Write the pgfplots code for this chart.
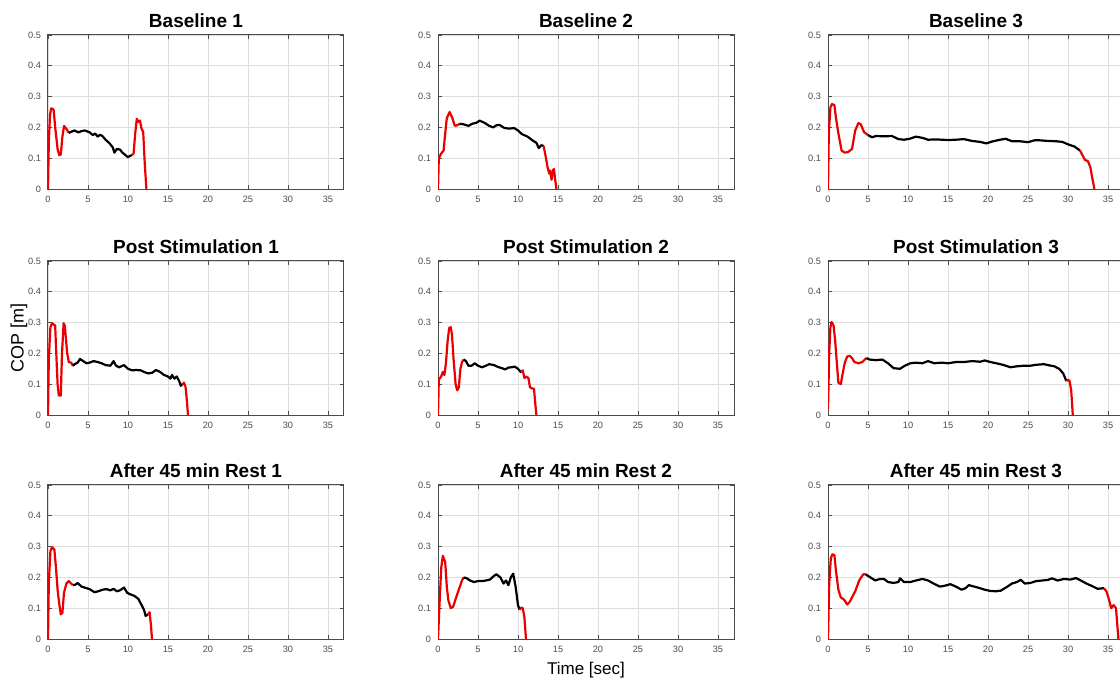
\documentclass[border=0pt]{standalone}
\usepackage{fontspec}
\setmainfont{Liberation Sans}
\usepackage{pgfplots}
\pgfplotsset{compat=1.18}
\definecolor{axgray}{RGB}{75,75,75}
\definecolor{gridgray}{RGB}{222,222,222}
\definecolor{lred}{RGB}{235,0,0}
\pgfplotsset{panel/.style={
  scale only axis, width=148pt, height=77pt, anchor=south west,
  clip mode=individual,
  xmin=0,xmax=37,ymin=0,ymax=0.5,
  xtick={0,5,...,35}, ytick={0,0.1,0.2,0.3,0.4,0.5},
  grid=major, major grid style={gridgray, line width=0.4pt},
  axis line style={axgray, line width=0.5pt},
  tick style={axgray, line width=0.4pt},
  tick align=inside, major tick length=2pt,
  ticklabel style={font=\fontsize{4.6}{5}\selectfont, text=axgray},
  /pgf/number format/assume math mode=true,
  every axis title shift=0pt,
  title style={font=\bfseries\fontsize{9.5}{11}\selectfont, at={(0.5,1)}, anchor=base, yshift=3.5pt, inner sep=0pt},
  every axis plot/.append style={line width=1.1pt, line join=round, mark=none},
}}
\begin{document}
\begin{tikzpicture}
% ---------- Row 1 ----------
\begin{axis}[panel, at={(24pt,246.5pt)}, title={Baseline 1}]
\addplot[lred] coordinates {(0,0) (0.1,0.15) (0.25,0.24) (0.4,0.262) (0.7,0.258) (0.9,0.2) (1.2,0.13) (1.4,0.11) (1.6,0.112) (1.8,0.17) (2.0,0.205) (2.3,0.195) (2.6,0.182)};
\addplot[black] coordinates {(2.6,0.182) (3.0,0.187) (3.3,0.19) (3.8,0.184) (4.2,0.188) (4.6,0.19) (5.2,0.184) (5.6,0.175) (5.9,0.18) (6.2,0.17) (6.5,0.176) (6.8,0.172) (7.2,0.16) (7.7,0.148) (8.1,0.135) (8.3,0.118) (8.6,0.13) (9.0,0.128) (9.3,0.118) (9.6,0.112) (10.0,0.103) (10.2,0.107) (10.5,0.11)};
\addplot[lred] coordinates {(10.5,0.11) (10.7,0.115) (10.9,0.18) (11.1,0.228) (11.3,0.218) (11.5,0.222) (11.7,0.195) (11.9,0.185) (12.1,0.08) (12.3,0)};
\end{axis}
\begin{axis}[panel, at={(219pt,246.5pt)}, title={Baseline 2}]
\addplot[lred] coordinates {(0,0) (0.1,0.1) (0.4,0.115) (0.7,0.125) (0.9,0.18) (1.1,0.23) (1.45,0.25) (1.8,0.23) (2.1,0.205) (2.5,0.208) (2.7,0.212)};
\addplot[black] coordinates {(2.7,0.212) (3.2,0.21) (3.8,0.205) (4.3,0.212) (4.8,0.215) (5.2,0.222) (5.8,0.215) (6.4,0.205) (6.9,0.2) (7.3,0.207) (7.7,0.208) (8.3,0.198) (8.9,0.196) (9.5,0.198) (10.0,0.19) (10.5,0.178) (11.2,0.17) (11.8,0.158) (12.3,0.15) (12.6,0.133) (12.9,0.142) (13.2,0.14)};
\addplot[lred] coordinates {(13.2,0.14) (13.5,0.1) (13.7,0.07) (13.9,0.05) (14.0,0.06) (14.2,0.03) (14.35,0.06) (14.5,0.065) (14.6,0.04) (14.8,0)};
\end{axis}
\begin{axis}[panel, at={(414pt,246.5pt)}, title={Baseline 3}]
\addplot[lred] coordinates {(0,0) (0.1,0.18) (0.3,0.265) (0.5,0.276) (0.8,0.272) (1.0,0.23) (1.3,0.18) (1.7,0.125) (2.1,0.118) (2.5,0.12) (3.0,0.13) (3.4,0.19) (3.8,0.214) (4.1,0.21) (4.5,0.185) (5.0,0.175)};
\addplot[black] coordinates {(5.0,0.175) (5.5,0.168) (6.0,0.172) (7.0,0.171) (8.0,0.172) (8.8,0.162) (9.5,0.16) (10.2,0.163) (11.0,0.17) (11.8,0.166) (12.5,0.16) (13.5,0.161) (15.0,0.159) (16.0,0.16) (17.0,0.162) (18.0,0.156) (19.0,0.153) (19.8,0.148) (20.5,0.154) (21.5,0.16) (22.2,0.163) (23.0,0.155) (24.0,0.155) (25.0,0.152) (25.8,0.158) (26.5,0.158) (27.5,0.156) (28.5,0.155) (29.3,0.153) (30.0,0.145) (30.8,0.138) (31.5,0.125)};
\addplot[lred] coordinates {(31.5,0.125) (31.8,0.11) (32.1,0.095) (32.5,0.09) (32.8,0.07) (33.0,0.04) (33.3,0)};
\end{axis}
% ---------- Row 2 ----------
\begin{axis}[panel, at={(24pt,133.5pt)}, title={Post Stimulation 1}]
\addplot[lred] coordinates {(0,0) (0.1,0.18) (0.3,0.285) (0.5,0.298) (0.9,0.29) (1.0,0.22) (1.2,0.1) (1.35,0.063) (1.6,0.063) (1.75,0.2) (1.95,0.298) (2.1,0.29) (2.4,0.2) (2.6,0.172) (2.9,0.17) (3.1,0.16)};
\addplot[black] coordinates {(3.1,0.16) (3.4,0.166) (3.7,0.17) (4.0,0.182) (4.4,0.175) (4.8,0.168) (5.2,0.17) (5.7,0.175) (6.2,0.172) (6.7,0.168) (7.2,0.162) (7.8,0.16) (8.2,0.175) (8.5,0.16) (8.9,0.155) (9.5,0.162) (10.0,0.15) (10.5,0.145) (11.0,0.146) (11.6,0.145) (12.0,0.14) (12.5,0.135) (13.0,0.137) (13.5,0.146) (14.0,0.14) (14.5,0.13) (15.0,0.125) (15.3,0.118) (15.5,0.13) (15.8,0.118) (16.1,0.125) (16.4,0.11) (16.6,0.095) (16.8,0.1)};
\addplot[lred] coordinates {(16.8,0.1) (17.0,0.105) (17.2,0.09) (17.35,0.05) (17.5,0)};
\path (rel axis cs:0,0.5) ++(-14.5pt,0) node[rotate=90, font=\fontsize{9}{10}\selectfont] {COP [m]};
\end{axis}
\begin{axis}[panel, at={(219pt,133.5pt)}, title={Post Stimulation 2}]
\addplot[lred] coordinates {(0,0) (0.1,0.115) (0.4,0.125) (0.6,0.14) (0.8,0.13) (1.0,0.17) (1.2,0.24) (1.4,0.283) (1.6,0.285) (1.75,0.26) (1.95,0.18) (2.2,0.1) (2.4,0.08) (2.6,0.09) (2.8,0.15) (3.0,0.172) (3.2,0.18)};
\addplot[black] coordinates {(3.2,0.18) (3.5,0.175) (3.8,0.16) (4.2,0.16) (4.6,0.168) (5.0,0.16) (5.5,0.155) (6.0,0.16) (6.4,0.165) (7.0,0.162) (7.5,0.156) (8.0,0.152) (8.4,0.148) (8.8,0.154) (9.2,0.155) (9.6,0.157) (10.0,0.15) (10.4,0.138)};
\addplot[lred] coordinates {(10.4,0.138) (10.6,0.145) (10.8,0.12) (11.0,0.125) (11.3,0.12) (11.5,0.09) (11.8,0.086) (12.0,0.085) (12.15,0.04) (12.3,0)};
\end{axis}
\begin{axis}[panel, at={(414pt,133.5pt)}, title={Post Stimulation 3}]
\addplot[lred] coordinates {(0,0.02) (0.15,0.2) (0.3,0.285) (0.45,0.302) (0.7,0.29) (0.9,0.24) (1.1,0.17) (1.3,0.105) (1.6,0.1) (1.8,0.13) (2.1,0.17) (2.4,0.19) (2.7,0.192) (3.0,0.185) (3.3,0.172) (3.8,0.168) (4.3,0.172) (4.8,0.185)};
\addplot[black] coordinates {(4.8,0.185) (5.2,0.18) (6.0,0.178) (6.8,0.18) (7.5,0.168) (8.2,0.152) (9.0,0.15) (9.6,0.16) (10.3,0.168) (11.0,0.17) (11.8,0.168) (12.5,0.175) (13.3,0.168) (14.2,0.17) (15.0,0.168) (16.0,0.172) (17.0,0.172) (18.0,0.175) (19.0,0.173) (19.6,0.177) (20.3,0.172) (21.2,0.167) (22.0,0.162) (22.8,0.155) (23.6,0.158) (24.5,0.16) (25.3,0.16) (26.0,0.163) (27.0,0.165) (27.5,0.162) (28.3,0.158) (28.9,0.15) (29.4,0.135) (29.8,0.11)};
\addplot[lred] coordinates {(29.8,0.11) (30.0,0.115) (30.2,0.11) (30.4,0.08) (30.6,0)};
\end{axis}
% ---------- Row 3 ----------
\begin{axis}[panel, at={(24pt,21.5pt)}, title={After 45 min Rest 1}]
\addplot[lred] coordinates {(0,0) (0.1,0.18) (0.3,0.285) (0.5,0.298) (0.8,0.29) (1.0,0.23) (1.2,0.16) (1.4,0.115) (1.6,0.08) (1.8,0.085) (2.0,0.15) (2.3,0.18) (2.6,0.188) (2.9,0.18) (3.1,0.175)};
\addplot[black] coordinates {(3.1,0.175) (3.4,0.176) (3.7,0.182) (4.2,0.17) (4.7,0.166) (5.2,0.162) (5.8,0.152) (6.3,0.155) (6.8,0.16) (7.3,0.162) (7.8,0.158) (8.2,0.163) (8.6,0.155) (9.0,0.158) (9.5,0.167) (9.9,0.15) (10.3,0.145) (10.8,0.14) (11.3,0.13) (11.7,0.11) (12.0,0.095) (12.2,0.075) (12.5,0.08)};
\addplot[lred] coordinates {(12.5,0.08) (12.7,0.087) (12.85,0.05) (13.0,0)};
\end{axis}
\begin{axis}[panel, at={(219pt,21.5pt)}, title={After 45 min Rest 2}]
\addplot[lred] coordinates {(0,0) (0.2,0.12) (0.4,0.23) (0.6,0.27) (0.9,0.25) (1.1,0.17) (1.3,0.125) (1.6,0.1) (1.9,0.105) (2.2,0.13) (2.6,0.16) (3.0,0.19) (3.2,0.2)};
\addplot[black] coordinates {(3.2,0.2) (3.6,0.197) (4.0,0.19) (4.5,0.185) (5.0,0.188) (5.5,0.188) (6.0,0.19) (6.5,0.193) (7.0,0.205) (7.3,0.21) (7.8,0.2) (8.2,0.18) (8.5,0.19) (8.8,0.175) (9.1,0.2) (9.4,0.212) (9.7,0.17) (10.0,0.11) (10.2,0.095)};
\addplot[lred] coordinates {(10.2,0.095) (10.4,0.102) (10.6,0.1) (10.8,0.07) (11.0,0)};
\path (rel axis cs:0.5,0) ++(0,-15.5pt) node[font=\fontsize{8.5}{10}\selectfont] {Time [sec]};
\end{axis}
\begin{axis}[panel, at={(414pt,21.5pt)}, title={After 45 min Rest 3}]
\addplot[lred] coordinates {(0,0) (0.15,0.18) (0.35,0.262) (0.55,0.275) (0.8,0.272) (1.0,0.22) (1.3,0.16) (1.6,0.135) (2.0,0.128) (2.4,0.112) (2.7,0.12) (3.0,0.135) (3.4,0.155) (3.9,0.19) (4.4,0.21) (4.7,0.21)};
\addplot[black] coordinates {(4.7,0.21) (5.3,0.2) (5.9,0.19) (6.5,0.195) (7.0,0.195) (7.5,0.185) (8.2,0.182) (8.8,0.185) (9.0,0.197) (9.5,0.185) (10.3,0.185) (11.0,0.19) (11.8,0.195) (12.5,0.19) (13.2,0.18) (14.0,0.17) (14.6,0.173) (15.3,0.178) (16.0,0.17) (16.7,0.16) (17.2,0.165) (17.6,0.175) (18.3,0.17) (19.0,0.165) (19.6,0.16) (20.3,0.156) (21.0,0.155) (21.6,0.157) (22.3,0.168) (23.0,0.18) (23.6,0.185) (24.1,0.192) (24.6,0.18) (25.3,0.182) (26.0,0.188) (26.8,0.19) (27.5,0.192) (28.0,0.197) (28.7,0.19) (29.5,0.195) (30.3,0.193) (31.0,0.198) (31.6,0.19) (32.3,0.18) (33.0,0.172) (33.7,0.163) (34.5,0.165)};
\addplot[lred] coordinates {(34.5,0.165) (34.8,0.155) (35.1,0.13) (35.4,0.1) (35.7,0.11) (36.0,0.1) (36.15,0.05) (36.3,0)};
\end{axis}
\pgfresetboundingbox
\useasboundingbox (0,0) rectangle (560pt,341pt);
\end{tikzpicture}
\end{document}
